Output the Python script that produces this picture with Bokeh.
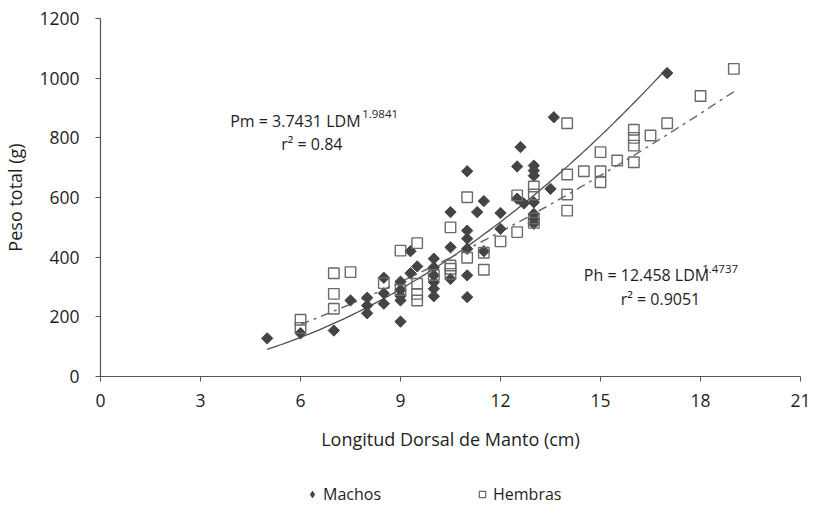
import numpy as np
from bokeh.plotting import figure
from bokeh.layouts import column
from bokeh.models import Label, Legend, LegendItem, FixedTicker, Range1d
from bokeh.embed import file_html
from bokeh.resources import INLINE

# Machos (diamonds)
machos_x = [5, 6, 7, 7.5, 8, 8, 8, 8.5, 8.5, 8.5, 9, 9, 9, 9, 9, 9.3, 9.3, 9.5,
            10, 10, 10, 10, 10, 10, 10.5, 10.5, 10.5, 11, 11, 11, 11, 11, 11, 11.3,
            11.5, 11.5, 12, 12, 12.5, 12.5, 12.6, 12.7, 13, 13, 13, 13, 13, 13, 13,
            13.5, 13.6, 17]
machos_y = [128, 145, 154, 255, 264, 238, 212, 331, 279, 244, 318, 290, 270, 255, 184, 420, 346, 369,
            395, 366, 339, 316, 294, 269, 551, 433, 327, 688, 489, 462, 428, 339, 266, 551,
            588, 420, 548, 495, 704, 596, 769, 580, 707, 690, 673, 584, 545, 529, 512,
            629, 869, 1017]

# Hembras (squares)
hembras_x = [6, 6, 7, 7, 7, 7.5, 8.5, 9, 9, 9.5, 9.5, 9.5, 9.5, 10, 10.5, 10.5, 10.5, 10.5,
             11, 11, 11.5, 11.5, 12, 12.5, 12.5, 13, 13, 13, 13, 14, 14, 14, 14, 14.5,
             15, 15, 15, 15.5, 16, 16, 16, 16, 16.5, 17, 18, 19]
hembras_y = [190, 163, 346, 277, 227, 350, 313, 422, 290, 447, 311, 277, 255, 340, 500, 372, 361, 344,
             601, 398, 358, 415, 453, 607, 484, 637, 610, 530, 515, 849, 677, 610, 556, 688,
             752, 688, 651, 724, 827, 800, 774, 718, 808, 849, 940, 1031]

# Power trendlines as printed on the chart
pm_a, pm_b = 3.7431, 1.9841
ph_a, ph_b = 12.458, 1.4737
x_ticks = [0, 3, 6, 9, 12, 15, 18, 21]
y_ticks = [0, 200, 400, 600, 800, 1000, 1200]
series_names = ["Machos", "Hembras"]

FONT = "Open Sans"
TXT = "#1e1e1e"
AX = "#555555"
M_COLOR = "#444444"
H_COLOR = "#6a6a6a"

p = figure(width=820, height=470, output_backend="svg", toolbar_location=None,
           x_range=Range1d(0, 21), y_range=Range1d(0, 1200),
           min_border_left=98, min_border_right=20, min_border_top=18, min_border_bottom=94)
p.outline_line_color = None
p.xgrid.visible = False
p.ygrid.visible = False

for ax in (p.xaxis[0], p.yaxis[0]):
    ax.axis_line_color = AX
    ax.axis_line_width = 1.2
    ax.major_tick_line_color = AX
    ax.major_tick_in = 0
    ax.major_tick_out = 5
    ax.minor_tick_line_color = None
    ax.major_label_text_font = FONT
    ax.major_label_text_font_size = "17.5px"
    ax.major_label_text_color = TXT
    ax.axis_label_text_font = FONT
    ax.axis_label_text_font_size = "18px"
    ax.axis_label_text_font_style = "normal"
    ax.axis_label_text_color = TXT

p.xaxis.ticker = FixedTicker(ticks=x_ticks)
p.yaxis.ticker = FixedTicker(ticks=y_ticks)
p.xaxis.axis_label = "Longitud Dorsal de Manto (cm)"
p.yaxis.axis_label = "Peso total (g)"
p.xaxis.major_label_standoff = 12
p.xaxis.axis_label_standoff = 17
p.yaxis.major_label_standoff = 16
p.yaxis.axis_label_standoff = 9

# trendlines
xm = np.linspace(min(machos_x), max(machos_x), 120)
xh = np.linspace(min(hembras_x), max(hembras_x), 120)
p.line(xm, pm_a * xm ** pm_b, line_color="#4d4d4d", line_width=1.3)
p.line(xh, ph_a * xh ** ph_b, line_color="#6e6e6e", line_width=1.5, line_dash="9 5 3 5")

p.scatter(machos_x, machos_y, marker="square", angle=np.pi / 4, size=8,
          fill_color=M_COLOR, line_color=M_COLOR, line_width=1)
p.scatter(hembras_x, hembras_y, marker="square", size=10.5,
          fill_color=None, line_color=H_COLOR, line_width=1.4)

# equations
def lab(x, y, text, size="16px", align="left"):
    p.add_layout(Label(x=x, y=y, text=text, text_font=FONT, text_font_size=size,
                       text_color=TXT, text_align=align, text_baseline="middle"))

lab(3.89, 858, "Pm = 3.7431 LDM")
lab(7.85, 880, "1.9841", size="11.5px")
lab(6.34, 781, "r² = 0.84", align="center")
lab(14.5, 339, "Ph = 12.458 LDM")
lab(18.05, 361, "1.4737", size="11.5px")
lab(16.8, 261, "r² = 0.9051", align="center")

# legend strip below the chart
pl = figure(width=820, height=46, output_backend="svg", toolbar_location=None,
            x_range=Range1d(0, 1), y_range=Range1d(0, 1),
            x_axis_location=None, y_axis_location=None,
            min_border_left=0, min_border_right=0, min_border_top=0, min_border_bottom=0)
pl.xgrid.visible = False
pl.ygrid.visible = False
pl.outline_line_color = None
lm = pl.scatter([-5], [-5], marker="diamond", size=12,
                fill_color=M_COLOR, line_color=M_COLOR)
lh = pl.scatter([-5], [-5], marker="square", size=10,
                fill_color=None, line_color=H_COLOR, line_width=1.2)
legend = Legend(items=[LegendItem(label=series_names[0], renderers=[lm]),
                       LegendItem(label=series_names[1], renderers=[lh])],
                orientation="horizontal", location=(204, 11),
                label_text_font=FONT, label_text_font_size="16px", label_text_color=TXT,
                spacing=93, glyph_width=16, glyph_height=16, label_standoff=3,
                border_line_color=None, background_fill_alpha=0, margin=0, padding=4)
pl.add_layout(legend, "center")

open("out.html", "w").write(file_html(column(p, pl, spacing=0), INLINE))
